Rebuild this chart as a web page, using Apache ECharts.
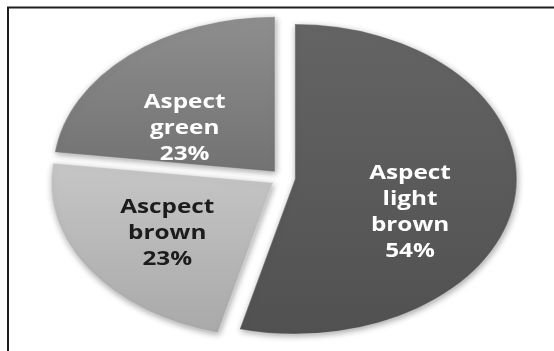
<!DOCTYPE html>
<html>
<head>
<meta charset="utf-8">
<script src="https://cdn.jsdelivr.net/npm/echarts@6/dist/echarts.min.js"></script>
<style>
  html, body { margin: 0; padding: 0; background: #ffffff; }
  #chart { width: 554px; height: 351px; }
</style>
</head>
<body>
<div id="chart"></div>
<script>
// Slices, clockwise from twelve o'clock
const categories = ['Aspect\nlight\nbrown', 'Ascpect\nbrown', 'Aspect\ngreen'];
const shares = [54, 23, 23];

// Fill gradients (top, bottom) and label colours per slice
const sliceTop = ['#646464', '#c6c6c6', '#8e8e8e'];
const sliceBottom = ['#515151', '#a9a9a9', '#727272'];
const labelColors = ['#ffffff', '#1c1c1c', '#ffffff'];

// Tilted pie geometry
const CX = 283, CY = 178, R = 222, SQUASH = 0.698, EXPLODE = 12;
const LABEL_FRACTION = 0.5;
const labelNudge = [[5, 24], [-14, 7], [-17, 15]];

const total = shares.reduce((a, b) => a + b, 0);

function renderSlice(params, api) {
  const i = params.dataIndex;
  let before = 0;
  for (let j = 0; j < i; j++) before += shares[j];
  const value = api.value(0);
  const start = -Math.PI / 2 + (before / total) * Math.PI * 2;
  const end = start + (value / total) * Math.PI * 2;
  const mid = (start + end) / 2;
  const ox = CX + EXPLODE * Math.cos(mid);
  const oy = CY + EXPLODE * Math.sin(mid) * SQUASH;
  const lx = ox + LABEL_FRACTION * R * Math.cos(mid) + labelNudge[i][0];
  const ly = oy + LABEL_FRACTION * R * Math.sin(mid) * SQUASH + labelNudge[i][1];
  const pct = Math.round((value / total) * 100) + '%';
  return {
    type: 'group',
    children: [
      {
        type: 'sector',
        x: ox, y: oy, scaleY: SQUASH,
        shape: { cx: 0, cy: 0, r0: 0, r: R, startAngle: start, endAngle: end, clockwise: true },
        style: {
          fill: new echarts.graphic.LinearGradient(0, 0, 0, 1, [
            { offset: 0, color: sliceTop[i] },
            { offset: 1, color: sliceBottom[i] }
          ]),
          stroke: 'rgba(255,255,255,0.25)',
          lineWidth: 1.5,
          shadowBlur: 6,
          shadowColor: 'rgba(0,0,0,0.35)',
          shadowOffsetX: 1,
          shadowOffsetY: 2
        }
      },
      {
        type: 'text',
        x: lx, y: ly, scaleX: 1.28,
        z2: 10,
        style: {
          text: categories[i] + '\n' + pct,
          fill: labelColors[i],
          font: 'bold 19px "Open Sans", sans-serif',
          lineHeight: 26,
          align: 'center',
          verticalAlign: 'middle'
        }
      }
    ]
  };
}

const chart = echarts.init(document.getElementById('chart'), null, { renderer: 'canvas' });
chart.setOption({
  animation: false,
  backgroundColor: '#ffffff',
  graphic: [
    {
      type: 'polyline',
      shape: { points: [[8, 351], [8, 7.5], [554, 7.5]] },
      style: { stroke: '#1e1e1e', lineWidth: 2, fill: null }
    }
  ],
  series: [
    {
      type: 'custom',
      coordinateSystem: 'none',
      renderItem: renderSlice,
      data: shares.map(v => [v])
    }
  ]
});
</script>
</body>
</html>
